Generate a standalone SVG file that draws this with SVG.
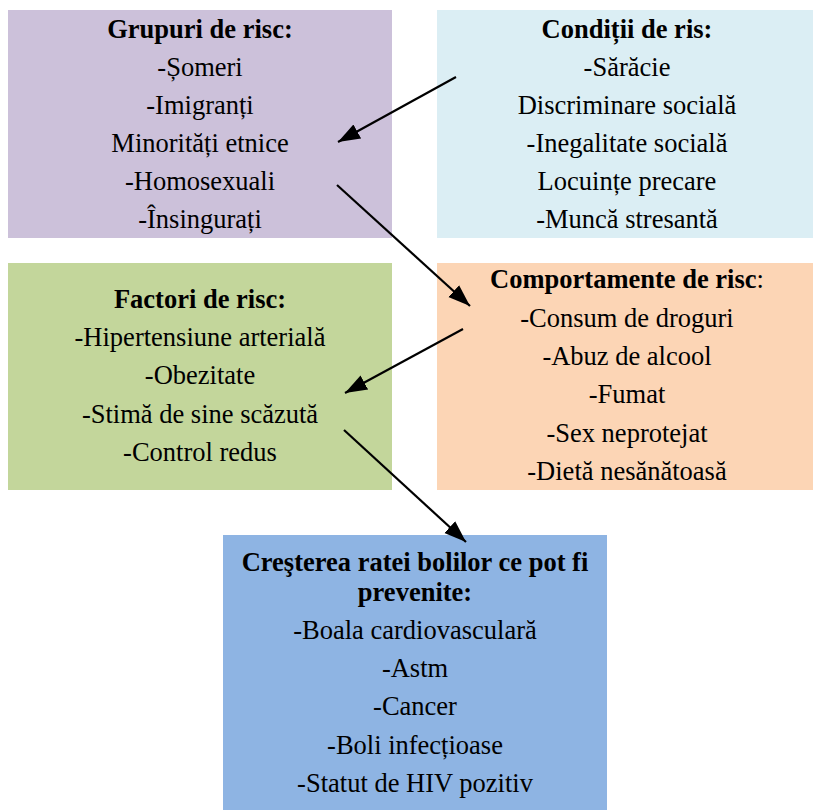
<svg xmlns="http://www.w3.org/2000/svg" width="813" height="810" viewBox="0 0 813 810">
<defs>
<style>
text{font-family:"Liberation Serif","Times New Roman",serif;font-size:26.5px;fill:#000;text-anchor:middle}
.b{font-weight:bold}
.conn line{stroke:#000;stroke-width:2.2}
</style>
<marker id="ah" markerUnits="userSpaceOnUse" markerWidth="24" markerHeight="20" viewBox="0 0 24 20" refX="22" refY="10" orient="auto">
<path d="M0,2 L22,10 L0,18 Z" fill="#000"/>
</marker>
</defs>
<rect width="813" height="810" fill="#fff"/>
<g id="grupuri">
<rect x="8" y="10" width="384" height="228" fill="#CCC1DA"/>
<text x="200" y="38" class="b">Grupuri de risc:</text>
<text x="200" y="76">-Șomeri</text>
<text x="200" y="114">-Imigranți</text>
<text x="200" y="152">Minorități etnice</text>
<text x="200" y="190">-Homosexuali</text>
<text x="200" y="228">-Însingurați</text>
</g>
<g id="conditii">
<rect x="437" y="10" width="376" height="228" fill="#DBEEF4"/>
<text x="627" y="38" class="b">Condiții de ris:</text>
<text x="627" y="76">-Sărăcie</text>
<text x="627" y="114">Discriminare socială</text>
<text x="627" y="152">-Inegalitate socială</text>
<text x="627" y="190">Locuințe precare</text>
<text x="627" y="228">-Muncă stresantă</text>
</g>
<g id="factori">
<rect x="8" y="263" width="384" height="227" fill="#C3D69B"/>
<text x="200" y="308" class="b">Factori de risc:</text>
<text x="200" y="346">-Hipertensiune arterială</text>
<text x="200" y="384">-Obezitate</text>
<text x="200" y="423">-Stimă de sine scăzută</text>
<text x="200" y="461">-Control redus</text>
</g>
<g id="comportamente">
<rect x="437" y="263" width="376" height="227" fill="#FCD5B5"/>
<text x="627" y="288"><tspan class="b">Comportamente de risc</tspan>:</text>
<text x="627" y="327">-Consum de droguri</text>
<text x="627" y="365">-Abuz de alcool</text>
<text x="627" y="403">-Fumat</text>
<text x="627" y="442">-Sex neprotejat</text>
<text x="627" y="480">-Dietă nesănătoasă</text>
</g>
<g id="crestere">
<rect x="223" y="535" width="384" height="275" fill="#8EB4E3"/>
<text class="b"><tspan x="415" y="571">Creşterea ratei bolilor ce pot fi</tspan><tspan x="415" y="601">prevenite:</tspan></text>
<text x="415" y="639">-Boala cardiovasculară</text>
<text x="415" y="677">-Astm</text>
<text x="415" y="715">-Cancer</text>
<text x="415" y="754">-Boli infecțioase</text>
<text x="415" y="792">-Statut de HIV pozitiv</text>
</g>
<g id="connectors" class="conn">
<line x1="456" y1="77" x2="338" y2="142" marker-end="url(#ah)"/>
<line x1="337" y1="185" x2="470" y2="306" marker-end="url(#ah)"/>
<line x1="463" y1="329" x2="345" y2="393" marker-end="url(#ah)"/>
<line x1="344" y1="430" x2="466" y2="542" marker-end="url(#ah)"/>
</g>
</svg>
